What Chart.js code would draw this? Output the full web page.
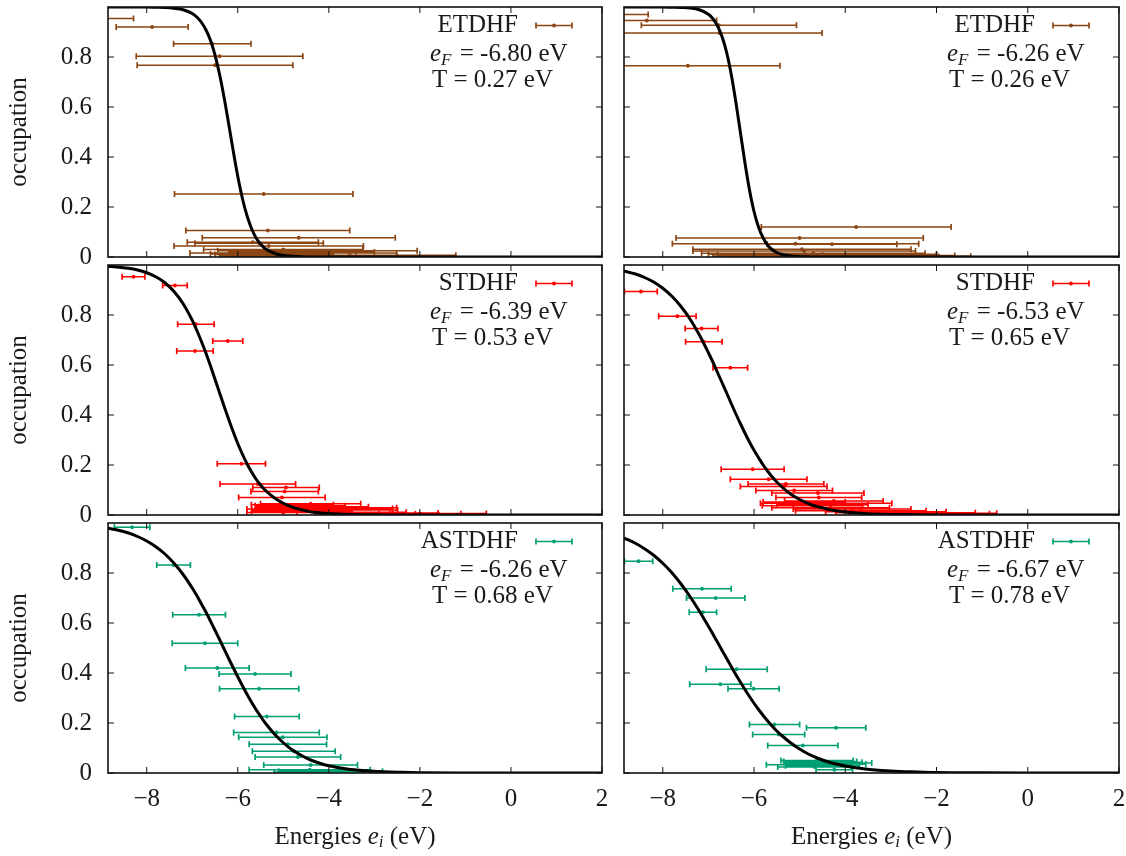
<!DOCTYPE html>
<html>
<head>
<meta charset="utf-8">
<title>occupation vs energies</title>
<script src="https://cdn.jsdelivr.net/npm/chart.js@4.4.1/dist/chart.umd.min.js"></script>
<style>
  body { margin: 0; background: #fff; }
  #wrap { position: relative; width: 1126px; height: 856px; overflow: hidden; }
  canvas { position: absolute; }
</style>
</head>
<body>
<div id="wrap">
  <canvas id="g0" width="615" height="275" style="left:0;top:0"></canvas>
  <canvas id="g1" width="520" height="275" style="left:606px;top:0"></canvas>
  <canvas id="g2" width="615" height="280" style="left:0;top:250px"></canvas>
  <canvas id="g3" width="520" height="280" style="left:606px;top:250px"></canvas>
  <canvas id="g4" width="615" height="346" style="left:0;top:510px"></canvas>
  <canvas id="g5" width="520" height="346" style="left:606px;top:510px"></canvas>
</div>
<script>
const SERIF = "'Liberation Serif', 'Times New Roman', serif";
Chart.defaults.font.family = SERIF;
Chart.defaults.font.size = 25;
Chart.defaults.color = '#1a1a1a';

// axes
const xTicks = [-8, -6, -4, -2, 0, 2];
const yTicks = [0, 0.2, 0.4, 0.6, 0.8];

// panel labels
const methods = ['ETDHF', 'STDHF', 'ASTDHF'];
const methodColors = ['#8b4513', '#ff0000', '#009e73'];
const eFermiLeft = ['-6.80', '-6.39', '-6.26'];
const tempLeft = ['0.27', '0.53', '0.68'];
const eFermiRight = ['-6.26', '-6.53', '-6.67'];
const tempRight = ['0.26', '0.65', '0.78'];

// fitted curves
const fitX = [-8.85, -8.6, -8.4, -8.2, -8.0, -7.8, -7.6, -7.4, -7.2, -7.0, -6.9, -6.8, -6.7, -6.6,
  -6.5, -6.4, -6.3, -6.2, -6.1, -6.0, -5.9, -5.8, -5.7, -5.6, -5.5, -5.4, -5.2, -5.0, -4.8, -4.6,
  -4.4, -4.2, -4.0, -3.6, -3.2, -2.8, -2.4, -2.0, -1.0, 0, 1, 2];
const fitEtdhfL = [1.000, 1.000, 1.000, 1.000, 1.000, 0.999, 0.998, 0.995, 0.989, 0.974, 0.960, 0.939, 0.909, 0.867,
  0.808, 0.731, 0.638, 0.533, 0.425, 0.323, 0.236, 0.167, 0.115, 0.077, 0.052, 0.034, 0.015, 0.006, 0.003, 0.001,
  0, 0, 0, 0, 0, 0, 0, 0, 0, 0, 0, 0];
const fitEtdhfR = [1.000, 1.000, 1.000, 1.000, 1.000, 0.999, 0.998, 0.996, 0.989, 0.971, 0.953, 0.924, 0.881, 0.818,
  0.731, 0.622, 0.500, 0.378, 0.269, 0.182, 0.119, 0.076, 0.047, 0.029, 0.018, 0.011, 0.004, 0.0015, 0.0006, 0,
  0, 0, 0, 0, 0, 0, 0, 0, 0, 0, 0, 0];
const fitStdhfL = [0.995, 0.991, 0.987, 0.980, 0.969, 0.953, 0.929, 0.894, 0.845, 0.779, 0.739, 0.695, 0.648, 0.597,
  0.543, 0.489, 0.435, 0.383, 0.333, 0.286, 0.244, 0.206, 0.173, 0.144, 0.120, 0.100, 0.069, 0.047, 0.031, 0.021,
  0.013, 0.009, 0.006, 0.003, 0.001, 0.0005, 0, 0, 0, 0, 0, 0];
const fitStdhfR = [0.976, 0.964, 0.950, 0.932, 0.907, 0.875, 0.834, 0.783, 0.721, 0.649, 0.611, 0.570, 0.529, 0.488,
  0.446, 0.405, 0.366, 0.328, 0.292, 0.259, 0.229, 0.200, 0.175, 0.152, 0.132, 0.114, 0.084, 0.062, 0.045, 0.033,
  0.024, 0.017, 0.012, 0.006, 0.003, 0.002, 0.001, 0.0004, 0, 0, 0, 0];
const fitAstdhfL = [0.979, 0.970, 0.960, 0.946, 0.928, 0.905, 0.876, 0.839, 0.794, 0.740, 0.710, 0.677, 0.644, 0.608,
  0.571, 0.534, 0.496, 0.458, 0.421, 0.385, 0.350, 0.316, 0.284, 0.254, 0.227, 0.201, 0.157, 0.121, 0.092, 0.070,
  0.052, 0.039, 0.029, 0.016, 0.009, 0.005, 0.003, 0.0015, 0.0003, 0, 0, 0];
const fitAstdhfR = [0.940, 0.919, 0.897, 0.871, 0.839, 0.801, 0.756, 0.705, 0.648, 0.587, 0.555, 0.523, 0.490, 0.458,
  0.426, 0.394, 0.364, 0.334, 0.306, 0.279, 0.254, 0.230, 0.208, 0.187, 0.168, 0.151, 0.121, 0.096, 0.075, 0.059,
  0.046, 0.036, 0.028, 0.017, 0.010, 0.006, 0.004, 0.002, 0.0006, 0.0002, 0, 0];

// orbital energies, occupations and error half-widths
const etdhfL_e = [-9.05, -7.88, -6.56, -6.40, -6.50, -5.43, -5.34, -4.66, -5.67, -5.53, -5.32, -4.25, -4.78, -3.54,
  -5.00, -4.60, -5.20, -4.90, -5.40, -4.40, -5.10];
const etdhfL_occ = [0.954, 0.920, 0.853, 0.803, 0.767, 0.252, 0.106, 0.077, 0.059, 0.055, 0.044, 0.025, 0.016, 0.007,
  0.030, 0.020, 0.010, 0.004, 0.012, 0.003, 0.002];
const etdhfL_err = [0.76, 0.79, 0.85, 1.83, 1.71, 1.96, 1.80, 2.12, 1.44, 1.41, 2.08, 2.19, 2.27, 2.33,
  1.75, 1.60, 1.30, 1.50, 1.20, 1.90, 1.10];

const etdhfR_e = [-9.00, -8.35, -6.77, -6.76, -7.45, -3.76, -5.00, -5.09, -4.29, -4.95, -4.90, -4.70, -4.50, -4.40,
  -4.20, -4.60, -3.80, -4.30];
const etdhfR_occ = [0.970, 0.946, 0.927, 0.896, 0.765, 0.120, 0.076, 0.053, 0.051, 0.031, 0.024, 0.015, 0.011, 0.008,
  0.006, 0.004, 0.003, 0.002];
const etdhfR_err = [0.68, 1.53, 1.70, 2.25, 2.02, 2.08, 2.71, 2.70, 1.42, 2.39, 2.44, 2.45, 2.50, 2.40,
  2.60, 2.30, 2.55, 2.35];

const stdhfL_e = [-8.29, -7.38, -6.92, -6.22, -6.94, -5.92, -5.56, -4.94, -4.97, -5.03, -4.63, -4.34, -4.05, -4.74,
  -4.09, -4.40, -4.80, -3.80, -4.60, -5.00, -3.50, -2.60, -1.60, -2.00, -3.20];
const stdhfL_occ = [0.953, 0.918, 0.763, 0.696, 0.656, 0.205, 0.124, 0.110, 0.094, 0.070, 0.037, 0.033, 0.029, 0.024,
  0.020, 0.045, 0.041, 0.026, 0.015, 0.010, 0.011, 0.008, 0.006, 0.005, 0.004];
const stdhfL_err = [0.25, 0.27, 0.40, 0.33, 0.40, 0.53, 0.83, 0.73, 0.74, 0.95, 0.99, 1.21, 1.54, 1.06,
  1.60, 1.10, 0.90, 1.20, 1.10, 0.80, 1.20, 1.00, 1.06, 0.90, 1.10];

const stdhfR_e = [-8.48, -7.68, -7.15, -7.10, -6.52, -6.03, -5.68, -5.30, -5.35, -5.12, -4.60, -4.58, -4.25, -4.42,
  -4.72, -4.32, -3.85, -3.66, -3.11, -2.68, -2.30, -1.64, -4.90, -4.50];
const stdhfR_occ = [0.894, 0.795, 0.746, 0.693, 0.589, 0.183, 0.143, 0.124, 0.114, 0.098, 0.088, 0.070, 0.056, 0.047,
  0.037, 0.029, 0.024, 0.017, 0.013, 0.009, 0.007, 0.005, 0.052, 0.041];
const stdhfR_err = [0.36, 0.41, 0.36, 0.40, 0.38, 0.69, 0.84, 0.83, 0.95, 0.84, 1.01, 0.94, 1.08, 1.44,
  1.10, 1.29, 1.29, 1.43, 1.32, 1.53, 1.62, 0.80, 0.90, 1.00];

const astdhfL_e = [-8.32, -7.41, -6.85, -6.72, -6.45, -5.62, -5.53, -5.36, -5.15, -5.01, -4.90, -4.77, -4.68, -4.40,
  -4.42, -3.96, -4.20];
const astdhfL_occ = [0.983, 0.832, 0.633, 0.519, 0.420, 0.396, 0.337, 0.226, 0.162, 0.143, 0.115, 0.087, 0.064, 0.032,
  0.013, 0.007, 0.004];
const astdhfL_err = [0.39, 0.37, 0.58, 0.72, 0.70, 0.79, 0.87, 0.71, 0.94, 0.97, 0.85, 0.91, 0.94, 1.03,
  1.33, 1.14, 1.00];

const astdhfR_e = [-8.53, -7.14, -6.84, -7.12, -6.38, -6.74, -6.01, -5.55, -4.20, -5.46, -4.93, -4.62, -4.49, -4.36,
  -4.79, -4.50, -4.67, -4.24, -4.40, -4.55];
const astdhfR_occ = [0.847, 0.737, 0.700, 0.643, 0.415, 0.355, 0.337, 0.194, 0.181, 0.154, 0.110, 0.050, 0.043, 0.040,
  0.033, 0.029, 0.024, 0.013, 0.036, 0.046];
const astdhfR_err = [0.31, 0.64, 0.64, 0.30, 0.67, 0.67, 0.56, 0.55, 0.65, 0.57, 0.77, 0.79, 0.86, 0.94,
  0.94, 0.81, 0.81, 0.40, 0.85, 0.80];

// layout of the 3x2 grid
const colLayout = [
  { yWidth: 108, padRight: 13, labels: true },
  { yWidth: 18, padRight: 7, labels: false }
];
const rowLayout = [
  { padTop: 7, xHeight: 18 },
  { padTop: 15, xHeight: 15 },
  { padTop: 13, xHeight: 83 }
];

function barPoints(e, occ, err) {
  const pts = [];
  for (let i = 0; i < e.length; i++) {
    pts.push({ x: e[i] - err[i], y: occ[i] });
    pts.push({ x: e[i] + err[i], y: occ[i] });
    pts.push({ x: e[i], y: null }); // gap between bars
  }
  return pts;
}

function minus(v) {
  return v < 0 ? '\u2212' + Math.abs(v) : String(v);
}

// box + inward tick marks on all four sides
const frame = {
  id: 'frame',
  afterDatasetsDraw(chart) {
    const { ctx, chartArea: a, scales: { x, y } } = chart;
    ctx.save();
    ctx.strokeStyle = '#111';
    ctx.lineWidth = 1;
    ctx.beginPath();
    x.ticks.forEach(t => {
      const px = x.getPixelForValue(t.value);
      ctx.moveTo(px, a.bottom); ctx.lineTo(px, a.bottom - 6);
      ctx.moveTo(px, a.top); ctx.lineTo(px, a.top + 6);
    });
    y.ticks.forEach(t => {
      const py = y.getPixelForValue(t.value);
      ctx.moveTo(a.left, py); ctx.lineTo(a.left + 6, py);
      ctx.moveTo(a.right, py); ctx.lineTo(a.right - 6, py);
    });
    ctx.stroke();
    ctx.lineWidth = 1.6;
    ctx.strokeRect(a.left, a.top, a.right - a.left, a.bottom - a.top);
    ctx.restore();
  }
};

// legend entry, e_F / T notes and the x title
const panelText = {
  id: 'panelText',
  afterDraw(chart, args, o) {
    const { ctx, chartArea: a } = chart;
    ctx.save();
    ctx.fillStyle = '#1a1a1a';
    ctx.textBaseline = 'middle';
    ctx.font = '25px ' + SERIF;
    ctx.textAlign = 'right';
    ctx.fillText(o.name, a.right - 84, a.top + 18);

    const sx0 = a.right - 66, sx1 = a.right - 30, sy = a.top + 18.5;
    ctx.strokeStyle = o.color;
    ctx.lineWidth = 1.7;
    ctx.beginPath();
    ctx.moveTo(sx0, sy); ctx.lineTo(sx1, sy);
    ctx.moveTo(sx0, sy - 3); ctx.lineTo(sx0, sy + 3);
    ctx.moveTo(sx1, sy - 3); ctx.lineTo(sx1, sy + 3);
    ctx.stroke();
    ctx.fillStyle = o.color;
    ctx.beginPath(); ctx.arc((sx0 + sx1) / 2, sy, 1.9, 0, 2 * Math.PI); ctx.fill();

    ctx.fillStyle = '#1a1a1a';
    ctx.textAlign = 'left';
    let x = a.right - 172;
    const y = a.top + 47;
    ctx.font = 'italic 25px ' + SERIF;
    ctx.fillText('e', x, y);
    x += ctx.measureText('e').width;
    ctx.font = 'italic 17px ' + SERIF;
    ctx.fillText('F', x, y + 7);
    x += ctx.measureText('F').width + 2;
    ctx.font = '25px ' + SERIF;
    ctx.fillText(' = ' + o.ef + ' eV', x, y);
    ctx.fillText('T = ' + o.T + ' eV', a.right - 170, a.top + 73.5);

    if (o.xTitle) {
      const parts = [
        ['Energies ', '25px '], ['e', 'italic 25px '], ['i', 'italic 17px '], [' (eV)', '25px ']
      ];
      let w = 0;
      parts.forEach(p => { ctx.font = p[1] + SERIF; w += ctx.measureText(p[0]).width; });
      let tx = (a.left + a.right) / 2 - w / 2;
      const ty = a.bottom + 64;
      parts.forEach((p, i) => {
        ctx.font = p[1] + SERIF;
        ctx.fillText(p[0], tx, i === 2 ? ty + 6 : ty);
        tx += ctx.measureText(p[0]).width;
      });
    }
    ctx.restore();
  }
};

function makePanel(id, col, row, p) {
  const c = colLayout[col], r = rowLayout[row];
  const bottom = row === 2;
  return new Chart(document.getElementById(id), {
    type: 'scatter',
    data: {
      datasets: [
        {
          data: fitX.map((x, i) => ({ x: x, y: p.fit[i] })),
          showLine: true, borderColor: '#000', borderWidth: 3,
          pointRadius: 0, cubicInterpolationMode: 'monotone'
        },
        {
          data: barPoints(p.e, p.occ, p.err),
          showLine: true, borderColor: p.color, borderWidth: 1.7,
          pointStyle: 'line', pointRotation: 90, pointRadius: 3,
          pointBorderColor: p.color, pointBorderWidth: 1.7
        },
        {
          data: p.e.map((x, i) => ({ x: x, y: p.occ[i] })),
          pointStyle: 'circle', pointRadius: 1.9,
          pointBackgroundColor: p.color, pointBorderWidth: 0
        }
      ]
    },
    options: {
      responsive: false,
      animation: false,
      events: [],
      layout: { padding: { left: 0, right: c.padRight, top: r.padTop, bottom: 0 } },
      plugins: {
        legend: { display: false },
        tooltip: { enabled: false },
        panelText: { name: p.name, color: p.color, ef: p.ef, T: p.T, xTitle: bottom }
      },
      scales: {
        x: {
          type: 'linear', min: -8.85, max: 2,
          grid: { display: false, drawTicks: false },
          border: { display: false },
          ticks: { display: bottom, padding: 11, callback: v => minus(v) },
          afterBuildTicks: s => { s.ticks = xTicks.map(v => ({ value: v })); },
          afterFit: s => {
            s.height = r.xHeight;
            s.paddingLeft = s.paddingRight = s.paddingTop = s.paddingBottom = 0;
          }
        },
        y: {
          type: 'linear', min: 0, max: 1,
          grid: { display: false, drawTicks: false },
          border: { display: false },
          ticks: { display: c.labels, padding: 16, callback: v => String(v) },
          title: { display: c.labels, text: 'occupation', padding: { top: 4, bottom: 0 } },
          afterBuildTicks: s => { s.ticks = yTicks.map(v => ({ value: v })); },
          afterFit: s => {
            s.width = c.yWidth;
            s.paddingLeft = s.paddingRight = s.paddingTop = s.paddingBottom = 0;
          }
        }
      }
    },
    plugins: [frame, panelText]
  });
}

makePanel('g0', 0, 0, { name: methods[0], color: methodColors[0], ef: eFermiLeft[0], T: tempLeft[0],
  fit: fitEtdhfL, e: etdhfL_e, occ: etdhfL_occ, err: etdhfL_err });
makePanel('g1', 1, 0, { name: methods[0], color: methodColors[0], ef: eFermiRight[0], T: tempRight[0],
  fit: fitEtdhfR, e: etdhfR_e, occ: etdhfR_occ, err: etdhfR_err });
makePanel('g2', 0, 1, { name: methods[1], color: methodColors[1], ef: eFermiLeft[1], T: tempLeft[1],
  fit: fitStdhfL, e: stdhfL_e, occ: stdhfL_occ, err: stdhfL_err });
makePanel('g3', 1, 1, { name: methods[1], color: methodColors[1], ef: eFermiRight[1], T: tempRight[1],
  fit: fitStdhfR, e: stdhfR_e, occ: stdhfR_occ, err: stdhfR_err });
makePanel('g4', 0, 2, { name: methods[2], color: methodColors[2], ef: eFermiLeft[2], T: tempLeft[2],
  fit: fitAstdhfL, e: astdhfL_e, occ: astdhfL_occ, err: astdhfL_err });
makePanel('g5', 1, 2, { name: methods[2], color: methodColors[2], ef: eFermiRight[2], T: tempRight[2],
  fit: fitAstdhfR, e: astdhfR_e, occ: astdhfR_occ, err: astdhfR_err });
</script>
</body>
</html>
